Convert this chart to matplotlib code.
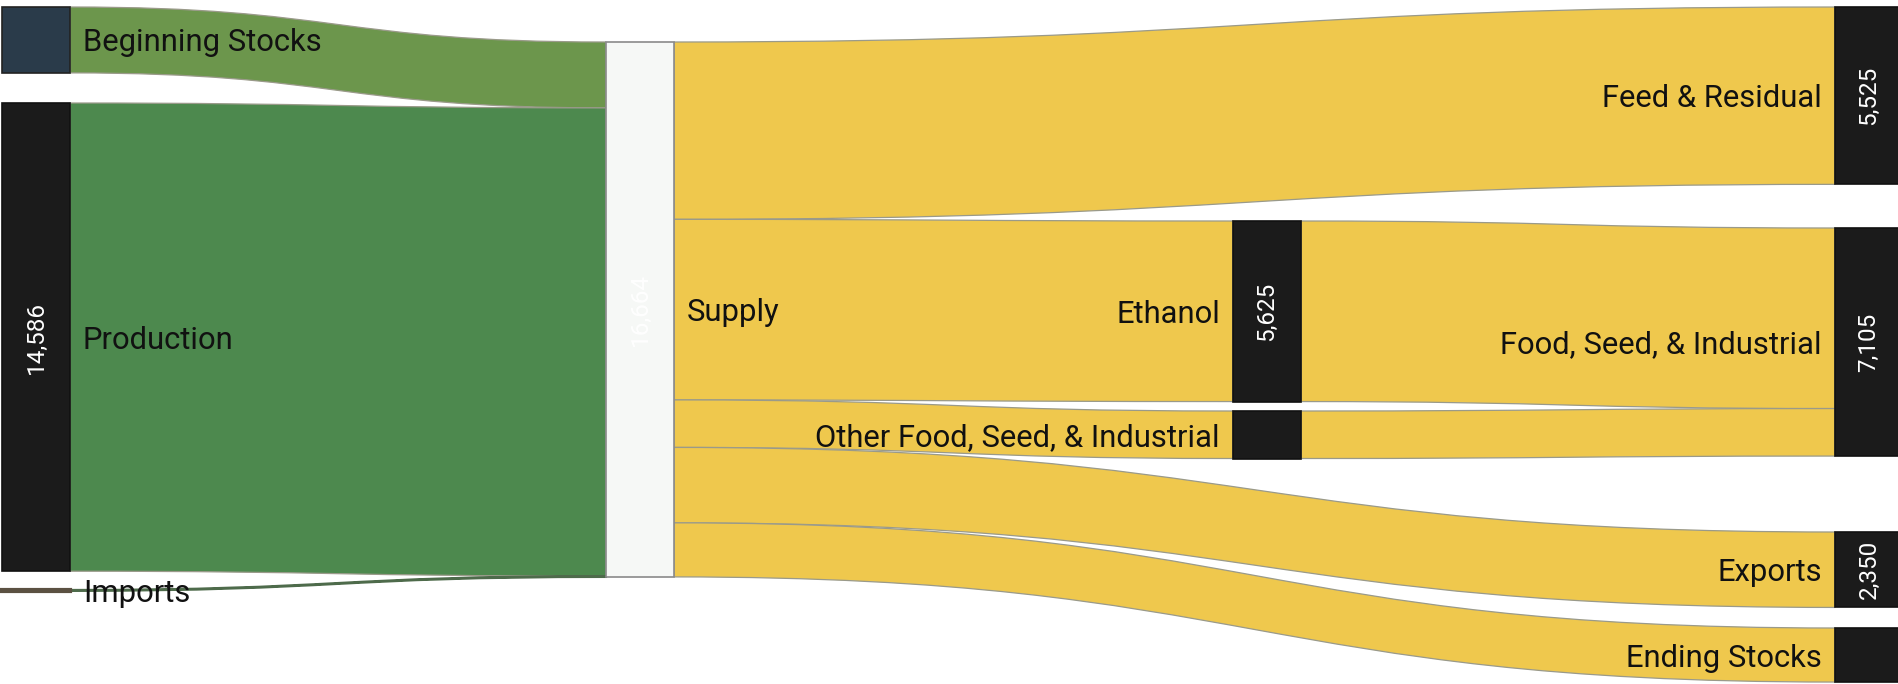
import matplotlib
matplotlib.use("Agg")
import matplotlib.pyplot as plt
from matplotlib.path import Path
from matplotlib.patches import PathPatch, Rectangle

plt.rcParams['font.family'] = ['Roboto', 'DejaVu Sans']

# ---------------- data ----------------
node_names = ["Beginning Stocks", "Production", "Imports", "Supply", "Ethanol",
              "Other Food, Seed, & Industrial", "Feed & Residual",
              "Food, Seed, & Industrial", "Exports", "Ending Stocks"]
link_source = [0, 1, 2, 3, 3, 3, 3, 3, 4, 5]
link_target = [3, 3, 3, 6, 4, 5, 8, 9, 7, 7]
link_value = [2053, 14586, 25, 5525, 5625, 1480, 2350, 1684, 5625, 1480]

# ---------------- layout / style ----------------
W, H = 1899, 684
K = 0.0321  # pixels per unit
node_col = [0, 0, 0, 1, 2, 2, 3, 3, 3, 3]
col_x = [2, 606, 1233, 1835]
node_w = 68
node_top_px = [7, 103, 590, 42, 221, 411, 7, 228, 532, 628]
node_color = ["#2A3B4A", "#1B1B1B", "#5B5142", "#F6F8F6", "#1B1B1B",
              "#1B1B1B", "#1B1B1B", "#1B1B1B", "#1B1B1B", "#1B1B1B"]
node_edge = ["#222222", "#111111", "#5B5142", "#8A8A8A", "#111111",
             "#111111", "#111111", "#111111", "#111111", "#111111"]
link_color = ["#6C964C", "#4D894E", "#4E6B4B", "#EFC84D", "#EFC84D",
              "#EFC84D", "#EFC84D", "#EFC84D", "#EFC84D", "#EFC84D"]
label_side = ["right", "right", "right", "right", "left", "left",
              "left", "left", "left", "left"]
LABEL_PAD = 13
LABEL_SIZE = 22.3
VALUE_SIZE = 17.5

fig = plt.figure(figsize=(W / 100, H / 100), dpi=100)
ax = fig.add_axes([0, 0, 1, 1])
ax.set_xlim(0, W)
ax.set_ylim(H / K, 0)
ax.axis("off")

n = len(node_names)
node_in = [0] * n
node_out = [0] * n
for s, t, v in zip(link_source, link_target, link_value):
    node_out[s] += v
    node_in[t] += v
node_val = [max(a, b) for a, b in zip(node_in, node_out)]
node_top = [p / K for p in node_top_px]

# links
out_off = list(node_top)
in_off = list(node_top)
for s, t, v, c in zip(link_source, link_target, link_value, link_color):
    x0 = col_x[node_col[s]] + node_w
    x1 = col_x[node_col[t]]
    ys0, ys1 = out_off[s], out_off[s] + v
    yt0, yt1 = in_off[t], in_off[t] + v
    out_off[s] += v
    in_off[t] += v
    xm = (x0 + x1) / 2
    verts = [(x0, ys0), (xm, ys0), (xm, yt0), (x1, yt0),
             (x1, yt1), (xm, yt1), (xm, ys1), (x0, ys1), (x0, ys0)]
    codes = [Path.MOVETO, Path.CURVE4, Path.CURVE4, Path.CURVE4,
             Path.LINETO, Path.CURVE4, Path.CURVE4, Path.CURVE4, Path.CLOSEPOLY]
    lw = 0.9 if v > 100 else 1.6
    ax.add_patch(PathPatch(Path(verts, codes), facecolor=c,
                           edgecolor="#9a9a8a" if v > 100 else c,
                           lw=lw, alpha=1.0, zorder=1))

# nodes
for i, name in enumerate(node_names):
    x = col_x[node_col[i]]
    y = node_top[i]
    h = node_val[i]
    lw = 1.2 if h * K > 3 else 3.0
    ax.add_patch(Rectangle((x, y), node_w, h, facecolor=node_color[i],
                           edgecolor=node_edge[i], lw=lw, zorder=3))
    yc = y + h / 2
    if label_side[i] == "right":
        ax.text(x + node_w + LABEL_PAD, yc, name, ha="left", va="center_baseline",
                fontsize=LABEL_SIZE, color="#111111", zorder=4)
    else:
        ax.text(x - LABEL_PAD, yc, name, ha="right", va="center_baseline",
                fontsize=LABEL_SIZE, color="#111111", zorder=4)
    if h * K > 70:
        ax.text(x + node_w / 2, yc, f"{h:,}", rotation=90, ha="center",
                va="center", fontsize=VALUE_SIZE, color="white", zorder=4)

fig.savefig("out.png", dpi=100)
